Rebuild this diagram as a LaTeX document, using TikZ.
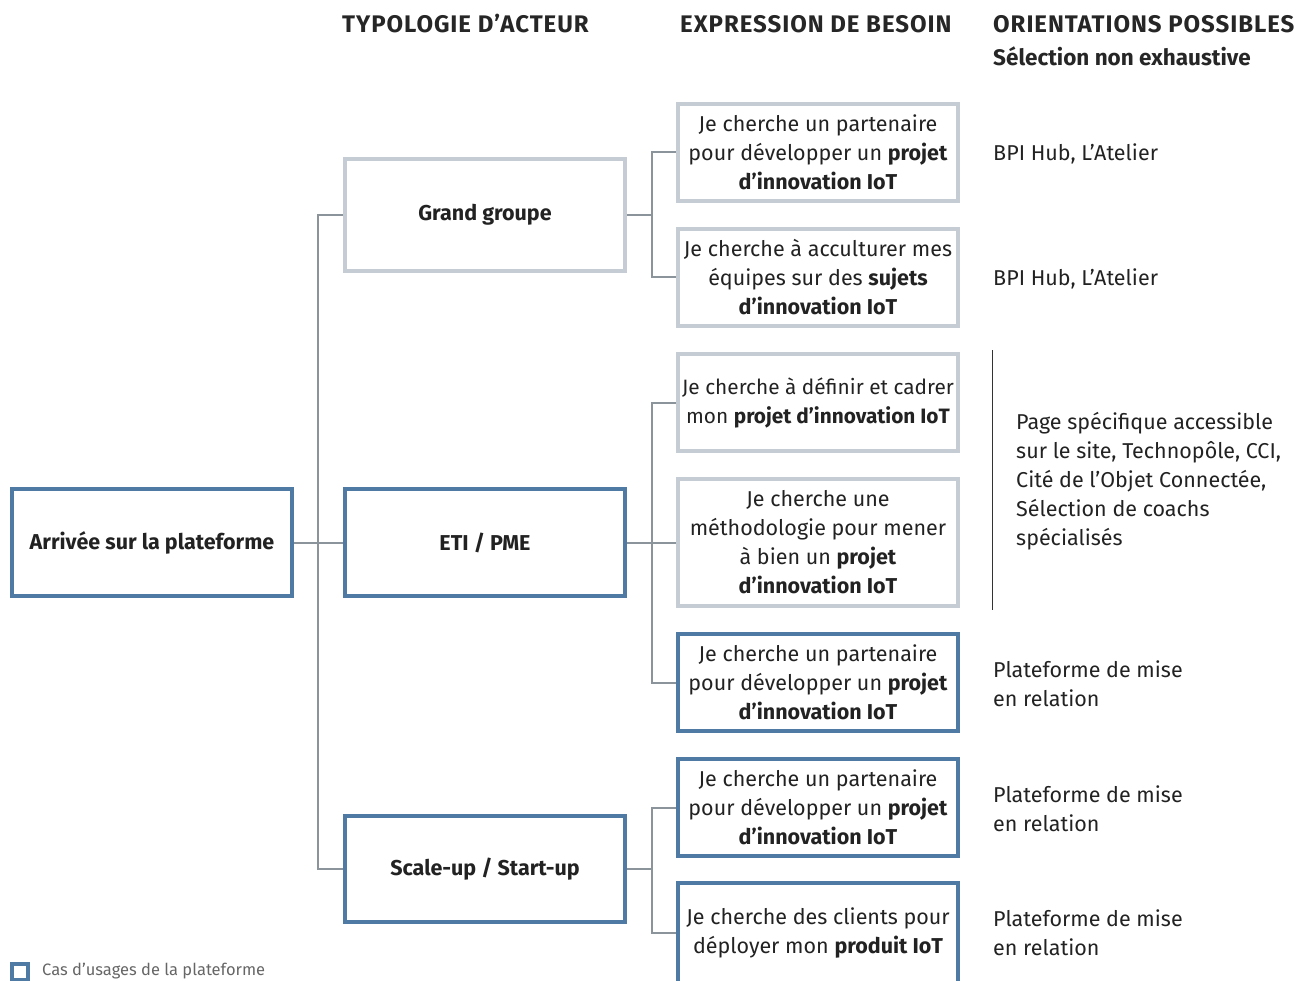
\documentclass[tikz,border=0pt]{standalone}
\usepackage{fontspec}
\setmainfont{Fira Sans}
\usepackage{tikz}
\definecolor{usageblue}{HTML}{4F7AA3}
\definecolor{boxgrey}{HTML}{C5CCD4}
\definecolor{linkgrey}{HTML}{8C949B}
\definecolor{inkdark}{HTML}{222222}
\tikzset{
  font={\fontsize{21.5pt}{29pt}\selectfont},
  every node/.style={text=inkdark},
  usage/.style={draw=usageblue, line width=4pt, fill=white, align=center, inner sep=0pt, minimum width=280pt},
  other/.style={draw=boxgrey, line width=4pt, fill=white, align=center, inner sep=0pt, minimum width=280pt},
  link/.style={draw=linkgrey, line width=2pt},
  head/.style={anchor=west, inner sep=0pt, font={\fontsize{24pt}{32pt}\selectfont\bfseries\addfontfeatures{LetterSpace=4}}, text=black!85},
  hint/.style={anchor=west, inner sep=0pt, align=left}}

\begin{document}
\begin{tikzpicture}[x=1pt,y=1pt]
\useasboundingbox (0,0) rectangle (1308,-981);
\tikzstyle{lbl}=[font={\fontsize{21.5pt}{29pt}\selectfont\bfseries}]

\node [head] (hType) at (342,-24) {TYPOLOGIE D’ACTEUR};
\node [head] (hNeed) at (680,-24) {EXPRESSION DE BESOIN};
\node [head] (hWay) at (993,-24) {ORIENTATIONS POSSIBLES};
\node [head, font={\fontsize{22.5pt}{32pt}\selectfont\bfseries}] (hSel) at (993,-56) {Sélection non exhaustive};

\node [usage, lbl, minimum height=107pt] (root) at (152,-542.5) {Arrivée sur la plateforme};
\node [other, lbl, minimum height=112pt] (gg) at (485,-215) {Grand groupe};
\node [usage, lbl, minimum height=107pt] (eti) at (485,-542.5) {ETI / PME};
\node [usage, lbl, minimum height=106pt] (su) at (485,-869) {Scale-up / Start-up};

\node [other, minimum height=97pt] (b1) at (818,-152.5) {Je cherche un partenaire\\pour développer un \textbf{projet}\\\textbf{d’innovation IoT}};
\node [other, minimum height=97pt] (b2) at (818,-277.5) {Je cherche à acculturer mes\\équipes sur des \textbf{sujets}\\\textbf{d’innovation IoT}};
\node [other, minimum height=97pt, font={\fontsize{20.8pt}{29pt}\selectfont}] (b3) at (818,-402.5) {Je cherche à définir et cadrer\\mon \textbf{projet d’innovation IoT}};
\node [other, minimum height=127pt] (b4) at (818,-542.5) {Je cherche une\\méthodologie pour mener\\à bien un \textbf{projet}\\\textbf{d’innovation IoT}};
\node [usage, minimum height=97pt] (b5) at (818,-682.5) {Je cherche un partenaire\\pour développer un \textbf{projet}\\\textbf{d’innovation IoT}};
\node [usage, minimum height=97pt] (b6) at (818,-807.5) {Je cherche un partenaire\\pour développer un \textbf{projet}\\\textbf{d’innovation IoT}};
\node [usage, minimum height=100pt] (b7) at (818,-933) {Je cherche des clients pour\\déployer mon \textbf{produit IoT}};

\draw [link] (root) -- (eti);
\draw [link] (gg.west) -- ++(-25,0) |- (su.west);
\draw [link] (gg.east) -- ++(25,0);
\draw [link] (b1.west) -- ++(-24,0) |- (b2.west);
\draw [link] (eti) -- (b4);
\draw [link] (b3.west) -- ++(-24,0) |- (b5.west);
\draw [link] (su.east) -- ++(25,0);
\draw [link] (b6.west) -- ++(-24,0) |- (b7.west);

\node [hint] (w1) at (993,-154) {BPI Hub, L’Atelier};
\node [hint] (w2) at (993,-279) {BPI Hub, L’Atelier};
\coordinate (rTop) at (992,-350);
\coordinate (rBot) at (992,-610);
\draw [black!80, line width=1pt] (rTop) -- (rBot);
\node [hint] (w3) at (1016,-481) {Page spécifique accessible\\sur le site, Technopôle, CCI,\\Cité de l’Objet Connectée,\\Sélection de coachs\\spécialisés};
\node [hint] (w5) at (993,-683.5) {Plateforme de mise\\en relation};
\node [hint] (w6) at (993,-808.5) {Plateforme de mise\\en relation};
\node [hint] (w7) at (993,-932.5) {Plateforme de mise\\en relation};

\node [draw=usageblue, line width=4pt, fill=white, minimum size=16pt, inner sep=0pt] (key) at (20,-971.5) {};
\node [anchor=west, inner sep=0pt, text=black!60, font={\fontsize{16.5pt}{18pt}\selectfont}] (keyText) at (42,-971.5) {Cas d’usages de la plateforme};
\end{tikzpicture}
\end{document}
